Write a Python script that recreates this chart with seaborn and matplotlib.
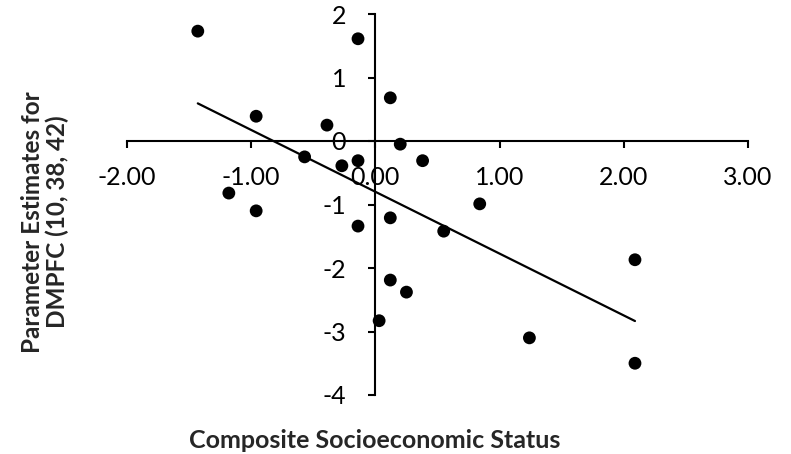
import matplotlib
matplotlib.use("Agg")
import matplotlib.pyplot as plt
import seaborn as sns
import pandas as pd

ses = [-1.43, -0.14, 0.12, -0.96, -0.39, 0.20, -0.57, -0.27, -0.14, 0.38,
       -1.18, -0.96, 0.84, 0.12, -0.14, 0.55, 2.09, 0.12, 0.25, 0.03, 1.24, 2.09]
est = [1.73, 1.61, 0.68, 0.39, 0.25, -0.05, -0.25, -0.39, -0.31, -0.31,
       -0.82, -1.10, -0.99, -1.21, -1.34, -1.42, -1.87, -2.19, -2.38, -2.83, -3.10, -3.50]
x_ticks = [-2, -1, 0, 1, 2, 3]
x_tick_labels = ["-2.00", "-1.00", "0.00", "1.00", "2.00", "3.00"]
y_ticks = [-4, -3, -2, -1, 0, 1, 2]
y_tick_labels = ["-4", "-3", "-2", "-1", "0", "1", "2"]

df = pd.DataFrame({"ses": ses, "est": est})

sns.set_style("white")
plt.rcParams["font.family"] = ["Lato", "DejaVu Sans"]
plt.rcParams["axes.unicode_minus"] = False

fig = plt.figure(figsize=(7.91, 4.54), dpi=100)
ax = fig.add_axes([127 / 791, 1 - 395 / 454, (748 - 127) / 791, (395 - 14) / 454])

sns.regplot(data=df, x="ses", y="est", ax=ax, ci=None,
            scatter_kws=dict(s=85, color="black", edgecolors="none", alpha=1, clip_on=False),
            line_kws=dict(color="black", lw=1.6))

ax.set_xlim(-2, 3)
ax.set_ylim(-4, 2)
ax.spines["left"].set_position(("data", 0))
ax.spines["bottom"].set_position(("data", 0))
ax.spines["top"].set_visible(False)
ax.spines["right"].set_visible(False)
for s in ("left", "bottom"):
    ax.spines[s].set_linewidth(1.5)
    ax.spines[s].set_color("black")
    ax.spines[s].set_zorder(1)

ax.set_xticks(x_ticks)
ax.set_xticklabels(x_tick_labels)
ax.set_yticks(y_ticks)
ax.set_yticklabels(y_tick_labels)
ax.tick_params(axis="x", direction="out", length=5, width=1.5, pad=13, labelsize=18,
               bottom=True, colors="black")
ax.tick_params(axis="y", direction="out", length=5, width=1.5, pad=16, labelsize=18,
               left=True, colors="black")
ax.set_xlabel("")
ax.set_ylabel("")
ax.grid(False)

fig.text(375 / 791, 1 - 440 / 454, "Composite Socioeconomic Status", ha="center", va="center",
         fontsize=18, fontweight="bold")
fig.text(45 / 791, 1 - 222 / 454, "Parameter Estimates for\nDMPFC (10, 38, 42)", ha="center",
         va="center", rotation=90, fontsize=17.5, fontweight="bold", multialignment="center",
         linespacing=1.1)

fig.savefig("out.png", dpi=100)
